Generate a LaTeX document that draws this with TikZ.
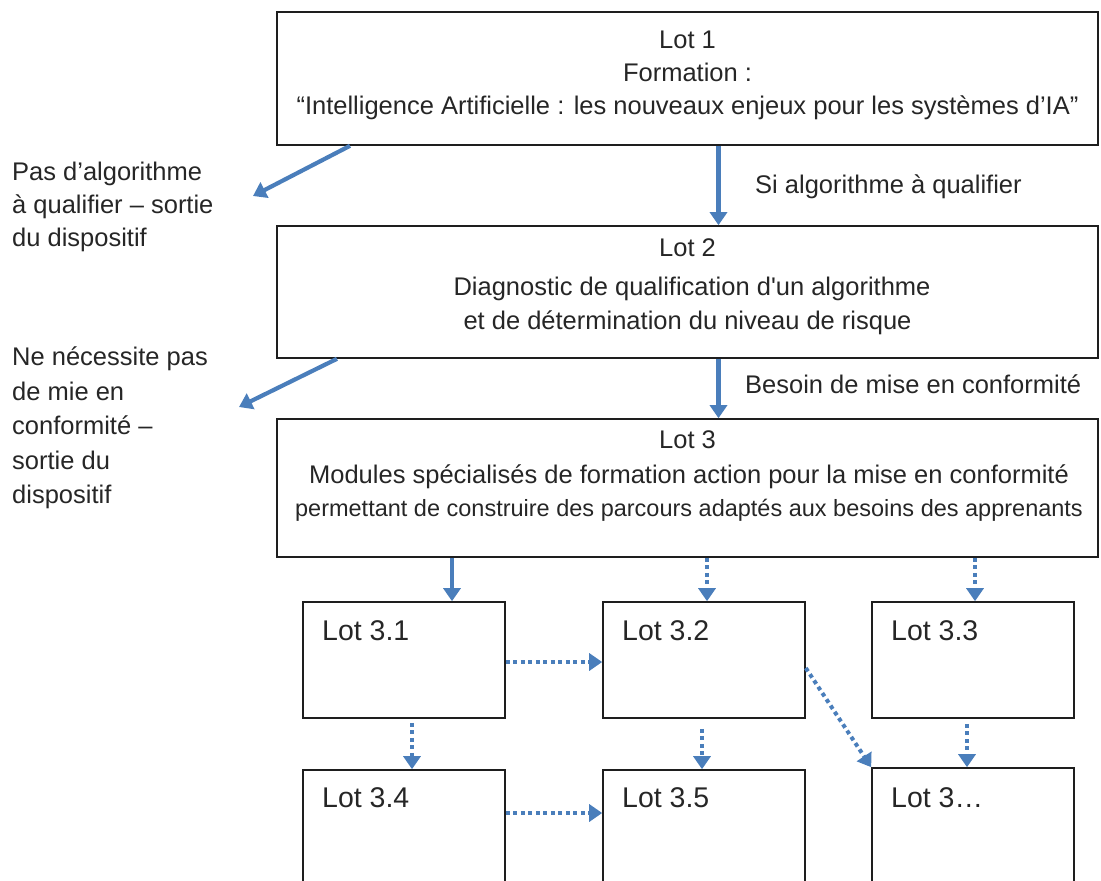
\documentclass[tikz,border=0pt]{standalone}
\usepackage{fontspec}
\setmainfont{Liberation Sans}
\usetikzlibrary{arrows.meta}
\definecolor{arrowblue}{RGB}{74,126,187}
\definecolor{boxline}{RGB}{30,30,30}
\begin{document}
\begin{tikzpicture}[x=1pt,y=-1pt,
  bigbox/.style={draw=boxline,line width=1.6pt,minimum width=821pt,inner sep=0pt},
  smallbox/.style={draw=boxline,line width=1.6pt,minimum width=202pt,minimum height=116pt,inner sep=0pt},
  txt/.style={font=\fontsize{25.5pt}{30pt}\selectfont,inner sep=0pt,text=black!85},
  smalltxt/.style={font=\fontsize{23.5pt}{28pt}\selectfont,inner sep=0pt,text=black!85},
  lottxt/.style={font=\fontsize{28.5pt}{34pt}\selectfont,inner sep=0pt,text=black!85,anchor=base west},
  solidarrow/.style={draw=arrowblue,line width=4.2pt,-{Triangle[length=13pt,width=17pt]}},
  dotarrow/.style={draw=arrowblue,line width=4pt,dash pattern=on 4pt off 3.5pt,-{Triangle[length=13pt,width=17pt]}}
]
\useasboundingbox (0,0) rectangle (1101,881);
\clip (0,0) rectangle (1101,881);

% main boxes
\node[bigbox,minimum height=133pt] (L1) at (687.5,78.5) {};
\node[bigbox,minimum height=132pt] (L2) at (687.5,292) {};
\node[bigbox,minimum height=138pt] (L3) at (687.5,488) {};

% texts of main boxes
\node[txt,anchor=base] (t1a) at (687.5,48) {Lot 1};
\node[txt,anchor=base] (t1b) at (687.5,81) {Formation :};
\node[txt,anchor=base] (t1c) at (687.5,114) {“Intelligence Artificielle : les nouveaux enjeux pour les systèmes d’IA”};

\node[txt,anchor=base] (t2a) at (687.5,256) {Lot 2};
\node[txt,anchor=base] (t2b) at (692,295) {Diagnostic de qualification d\textquotesingle un algorithme};
\node[txt,anchor=base] (t2c) at (687.5,329) {et de détermination du niveau de risque};

\node[txt,anchor=base] (t3a) at (687.5,448) {Lot 3};
\node[txt,anchor=base] (t3b) at (689,483) {Modules spécialisés de formation action pour la mise en conformité};
\node[smalltxt,anchor=base] (t3c) at (689,516) {permettant de construire des parcours adaptés aux besoins des apprenants};

% small boxes
\node[smallbox] (L31) at (404,660) {};
\node[smallbox] (L32) at (704,660) {};
\node[smallbox] (L33) at (973,660) {};
\node[smallbox] (L34) at (404,828) {};
\node[smallbox] (L35) at (704,828) {};
\node[smallbox] (L3x) at (973,826) {};

\node[lottxt] (s31) at (322,640) {Lot 3.1};
\node[lottxt] (s32) at (622,640) {Lot 3.2};
\node[lottxt] (s33) at (891,640) {Lot 3.3};
\node[lottxt] (s34) at (322,807) {Lot 3.4};
\node[lottxt] (s35) at (622,807) {Lot 3.5};
\node[lottxt] (s3x) at (891,807) {Lot 3…};

% side texts
\node[txt,anchor=base west] (la1) at (12,180) {Pas d’algorithme};
\node[txt,anchor=base west] (la2) at (12,213) {à qualifier – sortie};
\node[txt,anchor=base west] (la3) at (12,246) {du dispositif};

\node[txt,anchor=base west] (lb1) at (12,365) {Ne nécessite pas};
\node[txt,anchor=base west] (lb2) at (12,400) {de mie en};
\node[txt,anchor=base west] (lb3) at (12,434) {conformité –};
\node[txt,anchor=base west] (lb4) at (12,469) {sortie du};
\node[txt,anchor=base west] (lb5) at (12,503) {dispositif};

% connector labels
\node[txt,anchor=base west] (c1) at (755,193) {Si algorithme à qualifier};
\node[txt,anchor=base west] (c2) at (745,393) {Besoin de mise en conformité};

% exit points
\coordinate (e1) at (253,196);
\coordinate (e2) at (239,407);

% connectors
\draw[solidarrow] ([xshift=31pt]L1.south) -- ([xshift=31pt]L2.north);
\draw[solidarrow] ([xshift=31pt]L2.south) -- ([xshift=31pt]L3.north);
\draw[solidarrow] ([xshift=-337.5pt]L1.south) -- (e1);
\draw[solidarrow] ([xshift=-350.5pt]L2.south) -- (e2);

\draw[solidarrow] ([xshift=48pt]L31.north |- L3.south) -- ([xshift=48pt]L31.north);
\draw[dotarrow] ([xshift=3pt]L32.north |- L3.south) -- ([xshift=3pt]L32.north);
\draw[dotarrow] ([xshift=2pt]L33.north |- L3.south) -- ([xshift=2pt]L33.north);

\draw[dotarrow] ([yshift=-2pt]L31.east) -- ([yshift=-2pt]L32.west);
\draw[dotarrow] ([yshift=15pt]L34.east) -- ([yshift=15pt]L35.west);
\draw[dotarrow] ([xshift=8pt,yshift=-4pt]L31.south) -- ([xshift=8pt]L34.north);
\draw[dotarrow] ([xshift=-2pt,yshift=-10pt]L32.south) -- ([xshift=-2pt]L35.north);
\draw[dotarrow] ([xshift=-6pt,yshift=-5pt]L33.south) -- ([xshift=-6pt]L3x.north);
\draw[dotarrow] ([yshift=-8pt]L32.east) -- (L3x.north west);
\end{tikzpicture}
\end{document}
